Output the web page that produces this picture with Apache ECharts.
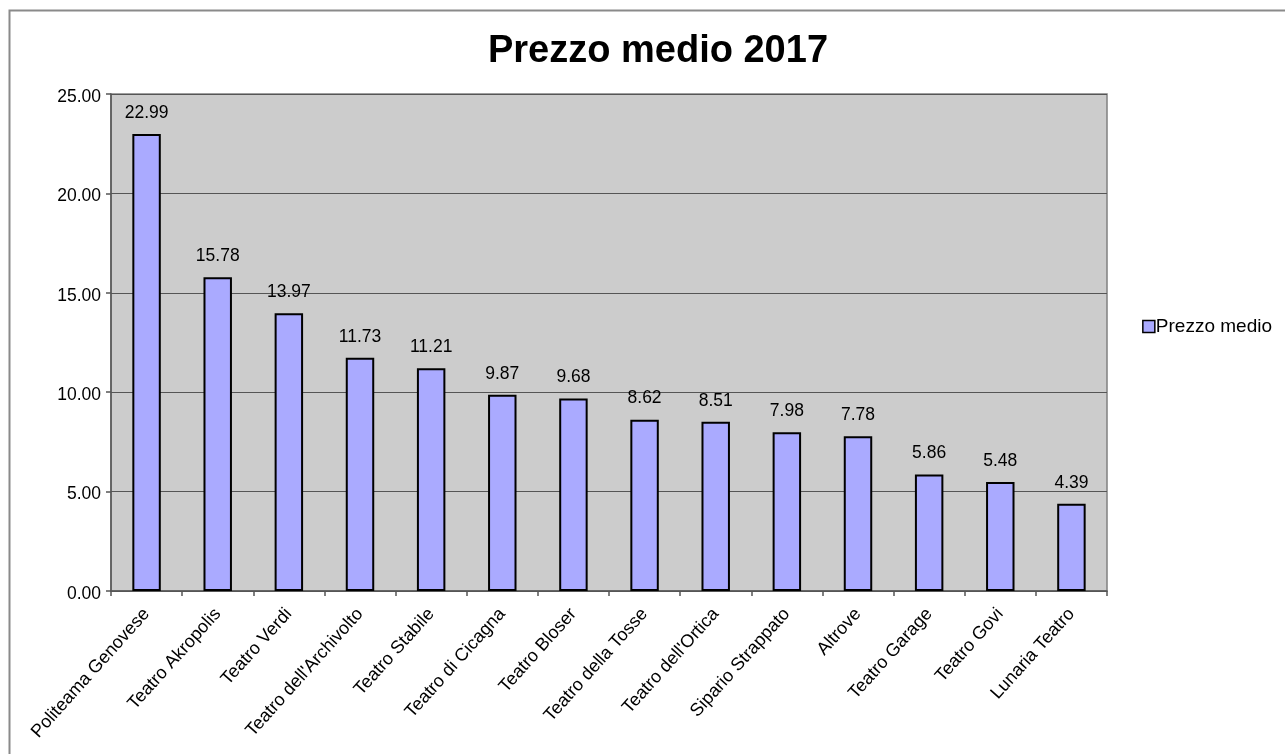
<!DOCTYPE html>
<html>
<head>
<meta charset="utf-8">
<script src="https://cdn.jsdelivr.net/npm/echarts@6/dist/echarts.min.js"></script>
<style>
html,body{margin:0;padding:0;background:#fff;}
#c{width:1285px;height:754px;}
</style>
</head>
<body>
<div id="c"></div>
<script>
var titleText = 'Prezzo medio 2017';
var seriesName = 'Prezzo medio';
var categories = ['Politeama Genovese','Teatro Akropolis','Teatro Verdi',"Teatro dell'Archivolto",'Teatro Stabile','Teatro di Cicagna','Teatro Bloser','Teatro della Tosse',"Teatro dell'Ortica",'Sipario Strappato','Altrove','Teatro Garage','Teatro Govi','Lunaria Teatro'];
var values = [22.99,15.78,13.97,11.73,11.21,9.87,9.68,8.62,8.51,7.98,7.78,5.86,5.48,4.39];
var yMin = 0, yMax = 25, yStep = 5;

var font = 'Liberation Sans, Arial, sans-serif';
var chart = echarts.init(document.getElementById('c'), null, {renderer:'canvas'});
chart.setOption({
  animation:false,
  backgroundColor:'#ffffff',
  title:{
    text:titleText, left:653, top:28, textAlign:'center',
    textStyle:{fontFamily:font, fontSize:38, fontWeight:'bold', color:'#000'}
  },
  legend:{
    right:8, top:312, itemWidth:12, itemHeight:12, itemGap:4,
    textStyle:{fontFamily:font, fontSize:19, color:'#000', padding:[0,0,0,-4]},
    data:[{name:seriesName, icon:'rect', itemStyle:{borderColor:'#000', borderWidth:1.5}}]
  },
  graphic:[{
    type:'rect', z:-1, silent:true,
    shape:{x:9.5, y:10.5, width:1300, height:800},
    style:{fill:'none', stroke:'#8a8a8a', lineWidth:2}
  }],
  grid:{left:111, top:94, right:178, bottom:163, show:true, backgroundColor:'#cccccc', borderColor:'#808080', borderWidth:1.5},
  xAxis:{
    type:'category', data:categories,
    axisLine:{lineStyle:{color:'#555', width:1.5}},
    axisTick:{show:true, inside:false, length:5, alignWithLabel:false, lineStyle:{color:'#555', width:1.5}},
    axisLabel:{rotate:48, interval:0, fontFamily:font, fontSize:18, color:'#000', margin:20}
  },
  yAxis:{
    type:'value', min:yMin, max:yMax, interval:yStep,
    axisLine:{show:true, lineStyle:{color:'#555', width:1.5}},
    axisTick:{show:true, inside:false, length:5, lineStyle:{color:'#555', width:1.5}},
    splitLine:{show:true, lineStyle:{color:'#555', width:1.2}},
    axisLabel:{fontFamily:font, fontSize:17.5, color:'#000', margin:10,
      formatter:function(v){return '{a|' + v.toFixed(2) + '}';},
      rich:{a:{fontFamily:font, fontSize:17.5, color:'#000', padding:[6,0,0,0]}}}
  },
  series:[{
    name:seriesName, type:'bar', data:values, barWidth:'40%',
    itemStyle:{color:'#aaaaff', borderColor:'#000', borderWidth:2},
    label:{show:true, position:'top', distance:12, fontFamily:font, fontSize:17.5, color:'#000',
      formatter:function(p){return p.value.toFixed(2);}}
  }]
});
</script>
</body>
</html>
